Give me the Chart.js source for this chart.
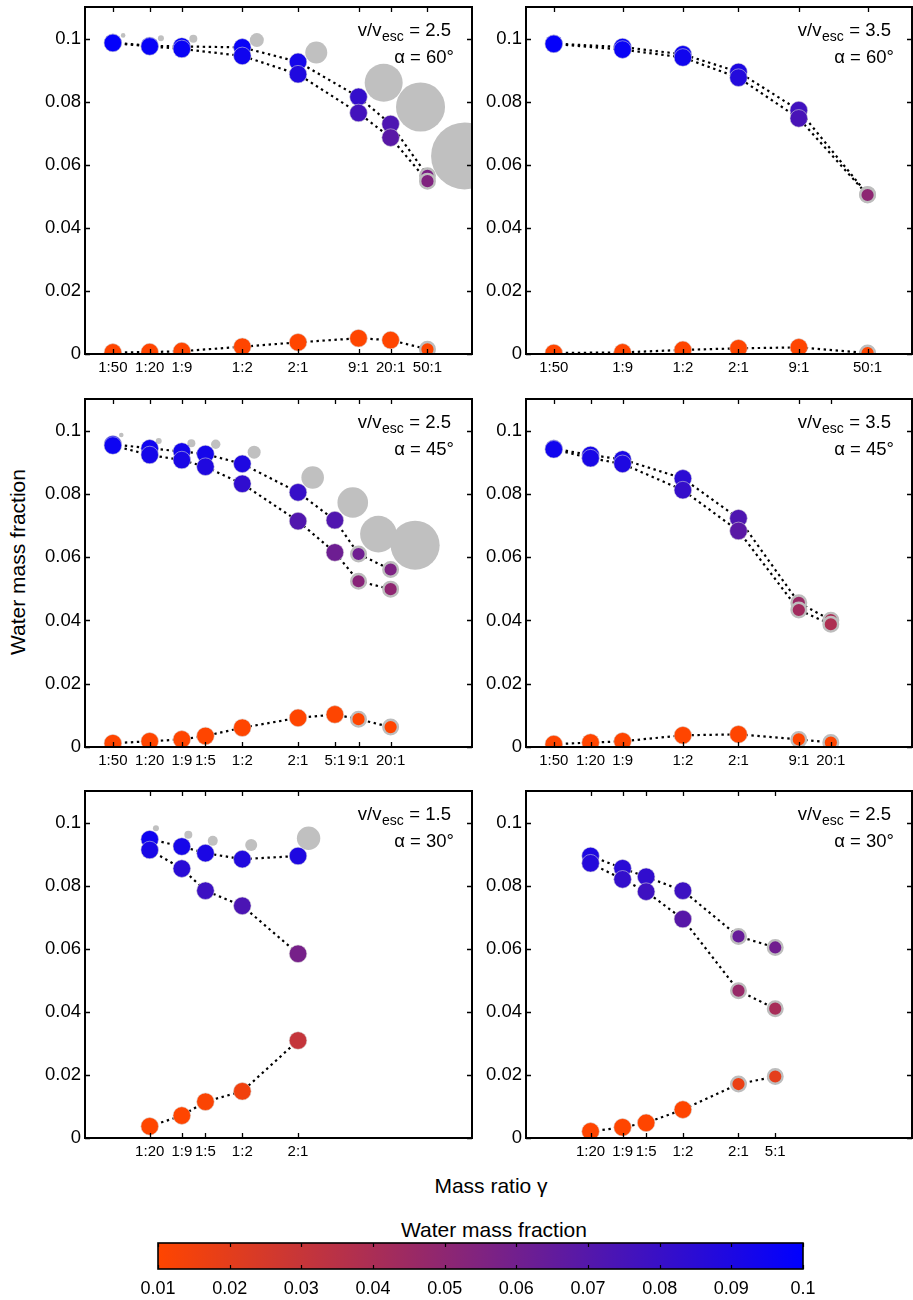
<!DOCTYPE html>
<html><head><meta charset="utf-8">
<script src="https://cdn.jsdelivr.net/npm/chart.js@4.4.1/dist/chart.umd.min.js"></script>
<style>
html,body{margin:0;padding:0;background:#fff;width:913px;height:1300px;overflow:hidden;position:relative;font-family:'Liberation Sans',Arial,Helvetica,sans-serif;}
canvas{position:absolute;}
.lbl{position:absolute;white-space:nowrap;font-size:21px;line-height:21px;color:#000;transform:translate(-50%,-50%);}
.rot{transform:translate(-50%,-50%) rotate(-90deg);}
</style></head><body>
<div class="lbl rot" style="left:16.5px;top:562px;">Water mass fraction</div>
<div class="lbl" style="left:491px;top:1185px;">Mass ratio γ</div>
<div class="lbl" style="left:494px;top:1229px;">Water mass fraction</div>
<script>
// ---------------- data ----------------
const yTicks = [0, 0.02, 0.04, 0.06, 0.08, 0.1];
const cbTicks = [0.01, 0.02, 0.03, 0.04, 0.05, 0.06, 0.07, 0.08, 0.09, 0.1];
const vRatio = ['2.5', '3.5', '2.5', '3.5', '1.5', '2.5'];
const alphaDeg = ['60', '60', '45', '45', '30', '30'];

// panel 1: v/vesc = 2.5, alpha = 60
const p1Cats = ['1:50','1:20','1:9','1:2','2:1','9:1','20:1','50:1'];
const p1HiA  = [0.0987,0.0977,0.0975,0.0972,0.0926,0.0815,0.0729,0.0565];
const p1HiB  = [0.0986,0.0975,0.0967,0.0945,0.0887,0.0764,0.0686,0.0548];
const p1Lo   = [0.0005,0.0006,0.0009,0.0023,0.0037,0.0050,0.0044,0.0015];
const p1Ring = ['50:1'];
const p1GrayLogGamma = [-1.588,-1.180,-0.830,-0.144,0.498,1.226,1.624,2.100];
const p1GrayY = [0.1010,0.1001,0.0999,0.0995,0.0956,0.0860,0.0783,0.0628];
const p1GrayR = [2.3,3,4,7,11,19,24.5,33.5];

// panel 2: v/vesc = 3.5, alpha = 60
const p2Cats = ['1:50','1:9','1:2','2:1','9:1','50:1'];
const p2HiA  = [0.0984,0.0973,0.0950,0.0894,0.0773,0.0506];
const p2HiB  = [0.0983,0.0965,0.0940,0.0876,0.0747,0.0504];
const p2Lo   = [0.0003,0.0005,0.0013,0.0018,0.0021,0.0003];
const p2Ring = ['50:1'];

// panel 3: v/vesc = 2.5, alpha = 45
const p3Cats = ['1:50','1:20','1:9','1:5','1:2','2:1','5:1','9:1','20:1'];
const p3HiA  = [0.0957,0.0944,0.0934,0.0926,0.0895,0.0805,0.0717,0.0610,0.0561];
const p3HiB  = [0.0953,0.0923,0.0907,0.0886,0.0832,0.0714,0.0615,0.0524,0.0499];
const p3Lo   = [0.0012,0.0018,0.0024,0.0035,0.0061,0.0092,0.0103,0.0088,0.0063];
const p3Ring = ['9:1','20:1'];
const p3GrayLogGamma = [-1.608,-1.204,-0.851,-0.588,-0.173,0.459,0.892,1.169,1.566];
const p3GrayY = [0.0986,0.0967,0.0960,0.0957,0.0932,0.0852,0.0773,0.0673,0.0638];
const p3GrayR = [2.3,3,4,4.7,6.5,11.3,15.3,18.3,24.5];

// panel 4: v/vesc = 3.5, alpha = 45
const p4Cats = ['1:50','1:20','1:9','1:2','2:1','9:1','20:1'];
const p4HiA  = [0.0943,0.0923,0.0909,0.0849,0.0723,0.0456,0.0401];
const p4HiB  = [0.0941,0.0913,0.0895,0.0812,0.0683,0.0433,0.0388];
const p4Lo   = [0.0009,0.0014,0.0018,0.0037,0.0040,0.0024,0.0014];
const p4Ring = ['9:1','20:1'];

// panel 5: v/vesc = 1.5, alpha = 30
const p5Cats = ['1:20','1:9','1:5','1:2','2:1'];
const p5HiA  = [0.0947,0.0924,0.0903,0.0884,0.0894];
const p5HiB  = [0.0913,0.0854,0.0784,0.0736,0.0584];
const p5Lo   = [0.0037,0.0071,0.0115,0.0148,0.0309];
const p5Ring = [];
const p5GrayLogGamma = [-1.234,-0.884,-0.620,-0.205,0.415];
const p5GrayY = [0.0982,0.0961,0.0942,0.0929,0.0950];
const p5GrayR = [3,4,5,6,11.7];

// panel 6: v/vesc = 2.5, alpha = 30
const p6Cats = ['1:20','1:9','1:5','1:2','2:1','5:1'];
const p6HiA  = [0.0894,0.0855,0.0828,0.0784,0.0639,0.0604];
const p6HiB  = [0.0871,0.0820,0.0781,0.0694,0.0467,0.0410];
const p6Lo   = [0.0021,0.0034,0.0048,0.0090,0.0171,0.0195];
const p6Ring = ['2:1','5:1'];

// ---------------- helpers / styles ----------------
const FONT = "'Liberation Sans', Arial, Helvetica, sans-serif";
Chart.defaults.font.family = FONT;
Chart.defaults.color = '#000';

const C0 = [255, 69, 0], C1 = [0, 0, 255];
function wmfColor(v) {
  const t = Math.min(1, Math.max(0, (v - 0.01) / 0.09));
  const c = C0.map((a, i) => Math.round(a + (C1[i] - a) * t));
  return `rgb(${c[0]},${c[1]},${c[2]})`;
}
function lg(c) { const [a, b] = c.split(':').map(Number); return Math.log10(a / b); }
function fmt(v) { return String(Math.round(v * 100) / 100); }

const panels = [
  {cats:p1Cats, hiA:p1HiA, hiB:p1HiB, lo:p1Lo, ring:p1Ring, gx:p1GrayLogGamma, gy:p1GrayY, gr:p1GrayR},
  {cats:p2Cats, hiA:p2HiA, hiB:p2HiB, lo:p2Lo, ring:p2Ring, gx:[], gy:[], gr:[]},
  {cats:p3Cats, hiA:p3HiA, hiB:p3HiB, lo:p3Lo, ring:p3Ring, gx:p3GrayLogGamma, gy:p3GrayY, gr:p3GrayR},
  {cats:p4Cats, hiA:p4HiA, hiB:p4HiB, lo:p4Lo, ring:p4Ring, gx:[], gy:[], gr:[]},
  {cats:p5Cats, hiA:p5HiA, hiB:p5HiB, lo:p5Lo, ring:p5Ring, gx:p5GrayLogGamma, gy:p5GrayY, gr:p5GrayR},
  {cats:p6Cats, hiA:p6HiA, hiB:p6HiB, lo:p6Lo, ring:p6Ring, gx:[], gy:[], gr:[]}
];
// plot-area boxes (layout only)
const boxes = [
  {l:85, t:7, w:387, h:347}, {l:526, t:7, w:386, h:347},
  {l:85, t:399, w:387, h:348}, {l:526, t:399, w:386, h:348},
  {l:85, t:791, w:387, h:347}, {l:526, t:791, w:386, h:347}
];
const PADL = 80, PADT = 20, PADR = 14, PADB = 40;

const framePlugin = {
  id: 'frame',
  afterDraw(chart, args, opts) {
    const {ctx, chartArea: ar, scales: {x, y}} = chart;
    ctx.save();
    ctx.strokeStyle = '#000';
    ctx.lineWidth = 2;
    ctx.strokeRect(ar.left, ar.top, ar.right - ar.left, ar.bottom - ar.top);
    ctx.lineWidth = 1.3;
    ctx.beginPath();
    const L = 5;
    x.ticks.forEach(t => { const px = Math.round(x.getPixelForValue(t.value)) + 0.5;
      ctx.moveTo(px, ar.bottom); ctx.lineTo(px, ar.bottom - L);
      ctx.moveTo(px, ar.top); ctx.lineTo(px, ar.top + L); });
    y.ticks.forEach(t => { const py = Math.round(y.getPixelForValue(t.value)) + 0.5;
      ctx.moveTo(ar.left, py); ctx.lineTo(ar.left + L, py);
      ctx.moveTo(ar.right, py); ctx.lineTo(ar.right - L, py); });
    ctx.stroke();
    if (opts && opts.v) {
      const f1 = '18.5px ' + FONT, f2 = '14px ' + FONT;
      ctx.fillStyle = '#000';
      ctx.textBaseline = 'alphabetic';
      ctx.textAlign = 'left';
      ctx.font = f1;
      const w1 = ctx.measureText('v/v').width;
      const w3 = ctx.measureText(' = ' + opts.v).width;
      ctx.font = f2;
      const w2 = ctx.measureText('esc').width;
      const xr = ar.right - 21, yb = ar.top + 29;
      const x0 = xr - w1 - w2 - w3 - 1;
      ctx.font = f1; ctx.fillText('v/v', x0, yb);
      ctx.font = f2; ctx.fillText('esc', x0 + w1 + 0.5, yb + 5);
      ctx.font = f1; ctx.fillText(' = ' + opts.v, x0 + w1 + w2 + 1, yb);
      ctx.textAlign = 'right';
      ctx.fillText('α = ' + opts.a + '°', ar.right - 18, ar.top + 56);
    }
    ctx.restore();
  }
};

function makePanel(i) {
  const P = panels[i], B = boxes[i];
  const cv = document.createElement('canvas');
  const W = PADL + B.w + PADR, H = PADT + B.h + PADB;
  cv.width = W; cv.height = H;
  cv.style.left = (B.l - PADL) + 'px'; cv.style.top = (B.t - PADT) + 'px';
  cv.style.width = W + 'px'; cv.style.height = H + 'px';
  document.body.appendChild(cv);
  const xs = P.cats.map(lg);
  const ring = P.cats.map(c => P.ring.includes(c));
  const pts = arr => arr.map((y, k) => ({x: xs[k], y}));
  const markerDs = (arr, ord) => ({
    type: 'scatter', data: pts(arr), showLine: false, order: ord, clip: 0,
    pointRadius: ring.map(r => r ? 7.3 : 8.8),
    pointBackgroundColor: arr.map(wmfColor),
    pointBorderColor: ring.map(r => r ? '#bdbdbd' : 'rgba(215,215,215,0.7)'),
    pointBorderWidth: ring.map(r => r ? 2.4 : 0.8)
  });
  const lineDs = (arr, ord) => ({
    type: 'scatter', data: pts(arr), showLine: true, order: ord, clip: 0,
    pointRadius: 0, borderColor: '#000', borderWidth: 2.2, borderDash: [2.4, 3.6], fill: false
  });
  const datasets = [
    markerDs(P.hiB, 0), markerDs(P.hiA, 1), markerDs(P.lo, 2),
    lineDs(P.hiA, 5), lineDs(P.hiB, 6), lineDs(P.lo, 7),
    {type: 'bubble', order: 10, clip: 0, backgroundColor: '#c0c0c0', borderWidth: 0,
     data: P.gx.map((x, k) => ({x, y: P.gy[k], r: P.gr[k]}))}
  ];
  new Chart(cv, {
    type: 'scatter',
    data: {datasets},
    options: {
      responsive: false, animation: false, devicePixelRatio: 1, events: [],
      layout: {autoPadding: false, padding: {left: 0, top: PADT, right: PADR, bottom: 0}},
      plugins: {legend: {display: false}, tooltip: {enabled: false},
                frame: {v: vRatio[i], a: alphaDeg[i]}},
      scales: {
        x: {type: 'linear', min: -2, max: 2.18,
            grid: {display: false, drawTicks: false}, border: {display: false},
            afterBuildTicks: s => { s.ticks = xs.map(v => ({value: v})); },
            afterFit: s => { s.height = PADB; },
            ticks: {autoSkip: false, maxRotation: 0, minRotation: 0, padding: 5,
                    font: {size: 15}, color: '#000', callback: (v, idx) => P.cats[idx]}},
        y: {type: 'linear', min: 0, max: 0.11,
            grid: {display: false, drawTicks: false}, border: {display: false},
            afterBuildTicks: s => { s.ticks = yTicks.map(v => ({value: v})); },
            afterFit: s => { s.width = PADL; },
            ticks: {padding: 4, font: {size: 18.5}, color: '#000', callback: v => fmt(v)}}
      }
    },
    plugins: [framePlugin]
  });
}
for (let i = 0; i < 6; i++) makePanel(i);

// ---------------- colour bar ----------------
(function () {
  const cv = document.createElement('canvas');
  const L = 30, R = 30, T = 4, BH = 34, w = 645, h = 26;
  const W = L + w + R, H = T + h + BH;
  cv.width = W; cv.height = H;
  cv.style.left = (158 - L) + 'px'; cv.style.top = (1243 - T) + 'px';
  cv.style.width = W + 'px'; cv.style.height = H + 'px';
  document.body.appendChild(cv);
  const cbFrame = {
    id: 'cbframe',
    afterDraw(chart) {
      const {ctx, chartArea: ar, scales: {x}} = chart;
      ctx.save();
      ctx.strokeStyle = '#000'; ctx.lineWidth = 1.6;
      ctx.strokeRect(ar.left, ar.top, ar.right - ar.left, ar.bottom - ar.top);
      ctx.lineWidth = 1.2; ctx.beginPath();
      x.ticks.forEach(t => { const px = Math.round(x.getPixelForValue(t.value)) + 0.5;
        ctx.moveTo(px, ar.top); ctx.lineTo(px, ar.top + 4);
        ctx.moveTo(px, ar.bottom); ctx.lineTo(px, ar.bottom - 4); });
      ctx.stroke(); ctx.restore();
    }
  };
  new Chart(cv, {
    type: 'bar',
    data: {labels: ['Water mass fraction'], datasets: [{
      data: [[cbTicks[0], cbTicks[cbTicks.length - 1]]],
      barPercentage: 1, categoryPercentage: 1, borderWidth: 0,
      backgroundColor(ctx) {
        const ch = ctx.chart; if (!ch.chartArea) return 'transparent';
        const sx = ch.scales.x;
        const g = ch.ctx.createLinearGradient(sx.getPixelForValue(0.01), 0, sx.getPixelForValue(0.1), 0);
        for (let k = 0; k <= 10; k++) { const v = 0.01 + 0.009 * k; g.addColorStop(k / 10, wmfColor(v)); }
        return g;
      }
    }]},
    options: {
      indexAxis: 'y', responsive: false, animation: false, devicePixelRatio: 1, events: [],
      layout: {autoPadding: false, padding: {left: L, right: R, top: T, bottom: 0}},
      plugins: {legend: {display: false}, tooltip: {enabled: false}},
      scales: {
        x: {type: 'linear', min: 0.01, max: 0.1,
            grid: {display: false, drawTicks: false}, border: {display: false},
            afterBuildTicks: s => { s.ticks = cbTicks.map(v => ({value: v})); },
            afterFit: s => { s.height = BH; },
            ticks: {autoSkip: false, maxRotation: 0, padding: 9, font: {size: 18}, color: '#000', callback: v => fmt(v)}},
        y: {display: false}
      }
    },
    plugins: [cbFrame]
  });
})();
</script>
</body></html>
